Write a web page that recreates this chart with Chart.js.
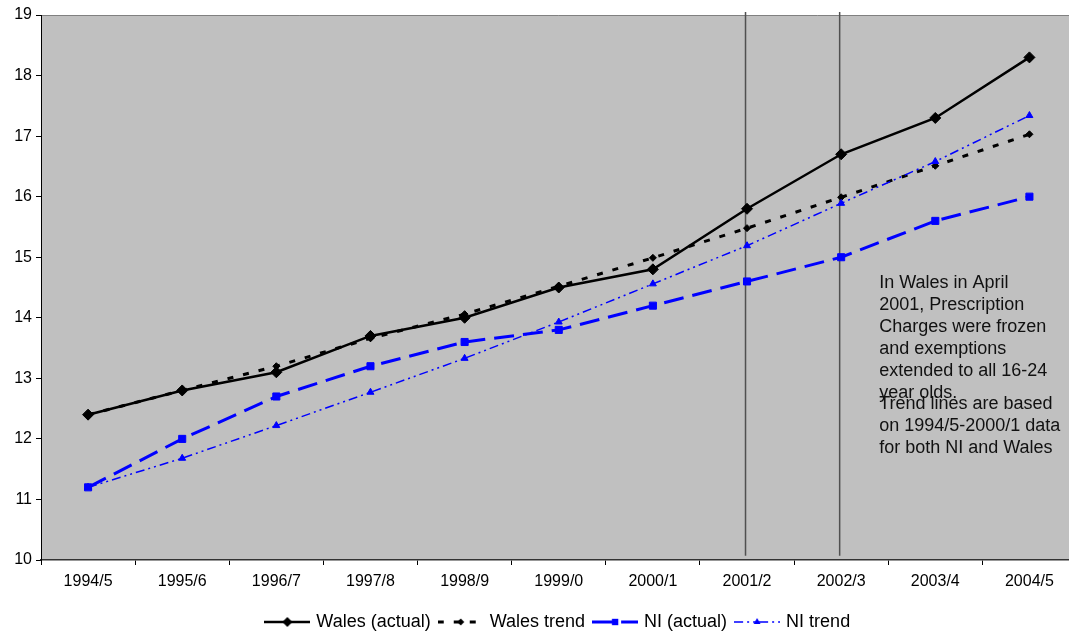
<!DOCTYPE html>
<html>
<head>
<meta charset="utf-8">
<script src="https://cdn.jsdelivr.net/npm/chart.js@4/dist/chart.umd.min.js"></script>
<style>
  html, body { margin: 0; padding: 0; background: #fff; overflow: hidden; }
  #wrap { width: 1069px; height: 632px; overflow: hidden; position: relative; }
  canvas { display: block; }
</style>
</head>
<body>
<div id="wrap"><canvas id="grafica" width="1083" height="641"></canvas></div>
<script>
// datos del grafico
const categorias = ['1994/5', '1995/6', '1996/7', '1997/8', '1998/9', '1999/0', '2000/1', '2001/2', '2002/3', '2003/4', '2004/5'];
const walesActual = [12.4, 12.8, 13.1, 13.7, 14.0, 14.5, 14.8, 15.8, 16.7, 17.3, 18.3];
const walesTrend  = [12.4, 12.8, 13.2, 13.66, 14.06, 14.52, 14.99, 15.48, 15.99, 16.51, 17.03];
const niActual    = [11.2, 12.0, 12.7, 13.2, 13.6, 13.8, 14.2, 14.6, 15.0, 15.6, 16.0];
const niTrend     = [11.2, 11.68, 12.22, 12.77, 13.33, 13.93, 14.56, 15.19, 15.89, 16.58, 17.34];
const ejeMin = 10;
const ejeMax = 19;
const lineasVerticales = ['2001/2', '2002/3'];
const notaGales = ['In Wales in April', '2001, Prescription', 'Charges were frozen', 'and exemptions', 'extended to all 16-24', 'year olds.'];
const notaTendencia = ['Trend lines are based', 'on 1994/5-2000/1 data', 'for both NI and Wales'];

Chart.defaults.font.family = 'Arial, "Liberation Sans", sans-serif';
Chart.defaults.color = '#000';

// muestra de leyenda: linea + marcador
function muestra(color, ancho, dash, marcador, tam) {
  const c = document.createElement('canvas');
  c.width = 46; c.height = 14;
  const g = c.getContext('2d');
  g.strokeStyle = color;
  g.fillStyle = color;
  g.lineWidth = ancho;
  g.setLineDash(dash);
  g.beginPath(); g.moveTo(0, 7); g.lineTo(46, 7); g.stroke();
  g.setLineDash([]);
  g.beginPath();
  if (marcador === 'rectRot') {
    g.moveTo(23, 7 - tam); g.lineTo(23 + tam, 7); g.lineTo(23, 7 + tam); g.lineTo(23 - tam, 7);
  } else if (marcador === 'rect') {
    g.rect(23 - tam * 0.71, 7 - tam * 0.71, tam * 1.42, tam * 1.42);
  } else {
    g.moveTo(23, 7 - tam); g.lineTo(23 + tam * 0.87, 7 + tam * 0.5); g.lineTo(23 - tam * 0.87, 7 + tam * 0.5);
  }
  g.closePath(); g.fill();
  return c;
}

const series = [
  { label: 'Wales (actual)', data: walesActual, borderColor: '#000', backgroundColor: '#000', borderWidth: 2.5,
    borderDash: [], pointStyle: 'rectRot', pointRadius: 5.5, order: 4 },
  { label: 'Wales trend', data: walesTrend, borderColor: '#000', backgroundColor: '#000', borderWidth: 3,
    borderDash: [6, 10], pointStyle: 'rectRot', pointRadius: 3.5, order: 3 },
  { label: 'NI (actual)', data: niActual, borderColor: '#0000ff', backgroundColor: '#0000ff', borderWidth: 3,
    borderDash: [20, 9], pointStyle: 'rect', pointRadius: 5, order: 2 },
  { label: 'NI trend', data: niTrend, borderColor: '#0000ff', backgroundColor: '#0000ff', borderWidth: 1.5,
    borderDash: [9, 4, 2, 4, 2, 4], pointStyle: 'triangle', pointRadius: 4, order: 1 }
];
series.forEach(s => { s.tension = 0; s.pointBorderWidth = 1; s.fill = false; });

const fondo = {
  id: 'fondo',
  beforeDraw(chart) {
    const { ctx, chartArea: a } = chart;
    ctx.save();
    ctx.fillStyle = '#fff';
    ctx.fillRect(0, 0, chart.width, chart.height);
    ctx.fillStyle = '#c0c0c0';
    ctx.fillRect(a.left, a.top, a.right - a.left, a.bottom - a.top);
    ctx.strokeStyle = '#808080';
    ctx.lineWidth = 1;
    ctx.beginPath(); ctx.moveTo(a.left, a.top + 0.5); ctx.lineTo(a.right, a.top + 0.5); ctx.stroke();
    ctx.restore();
  }
};

const verticales = {
  id: 'verticales',
  beforeDatasetsDraw(chart) {
    const { ctx } = chart;
    const xs = chart.scales.x, ys = chart.scales.y;
    ctx.save();
    ctx.strokeStyle = '#505050';
    ctx.lineWidth = 1.5;
    lineasVerticales.forEach(cat => {
      const x = xs.getPixelForValue(categorias.indexOf(cat)) - 1.5;
      ctx.beginPath();
      ctx.moveTo(x, ys.getPixelForValue(ejeMax + 0.05));
      ctx.lineTo(x, ys.getPixelForValue(ejeMin + 0.07));
      ctx.stroke();
    });
    ctx.restore();
  }
};

const notas = {
  id: 'notas',
  afterDatasetsDraw(chart) {
    const { ctx } = chart;
    const xs = chart.scales.x, ys = chart.scales.y;
    const x = xs.getPixelForValue(8) + 38;
    const y0 = ys.getPixelForValue(14.57);
    ctx.save();
    ctx.font = '18px Arial, "Liberation Sans", sans-serif';
    ctx.fillStyle = '#111';
    ctx.textBaseline = 'middle';
    notaGales.forEach((t, i) => ctx.fillText(t, x, y0 + i * 22));
    notaTendencia.forEach((t, i) => ctx.fillText(t, x, y0 + 121 + i * 22));
    ctx.restore();
  }
};

new Chart(document.getElementById('grafica').getContext('2d'), {
  type: 'line',
  data: { labels: categorias, datasets: series },
  options: {
    responsive: false,
    animation: false,
    devicePixelRatio: 1,
    layout: { padding: { top: 15, right: 1, left: 0, bottom: 0 } },
    scales: {
      x: {
        offset: true,
        grid: { display: true, drawOnChartArea: false, drawTicks: true, tickLength: 5, color: '#000', offset: true },
        border: { color: '#333', width: 1.5 },
        ticks: { font: { size: 16 }, color: '#000', padding: 7, maxRotation: 0, autoSkip: false }
      },
      y: {
        min: ejeMin, max: ejeMax,
        afterFit(scale) { scale.width = 41; },
        grid: { display: true, drawOnChartArea: false, drawTicks: true, tickLength: 5, color: '#000' },
        border: { color: '#000', width: 1 },
        ticks: { stepSize: 1, font: { size: 16 }, color: '#000', padding: 4 }
      }
    },
    plugins: {
      tooltip: { enabled: false },
      legend: {
        position: 'bottom',
        fullSize: false,
        title: { display: true, text: '', font: { size: 10, lineHeight: 0.48 }, padding: 0 },
        labels: {
          usePointStyle: true,
          pointStyleWidth: 40,
          padding: 10,
          font: { size: 18 },
          color: '#000',
          generateLabels(chart) {
            return chart.data.datasets.map((d, i) => ({
              text: d.label,
              datasetIndex: i,
              hidden: false,
              fontColor: '#000',
              lineWidth: 0,
              strokeStyle: 'transparent',
              fillStyle: 'transparent',
              pointStyle: muestra(d.borderColor, d.borderWidth, d.borderDash, d.pointStyle,
                d.pointStyle === 'rectRot' ? (i === 0 ? 5 : 3.5) : (d.pointStyle === 'rect' ? 4.5 : 4))
            }));
          }
        }
      }
    }
  },
  plugins: [fondo, verticales, notas]
});
</script>
</body>
</html>
